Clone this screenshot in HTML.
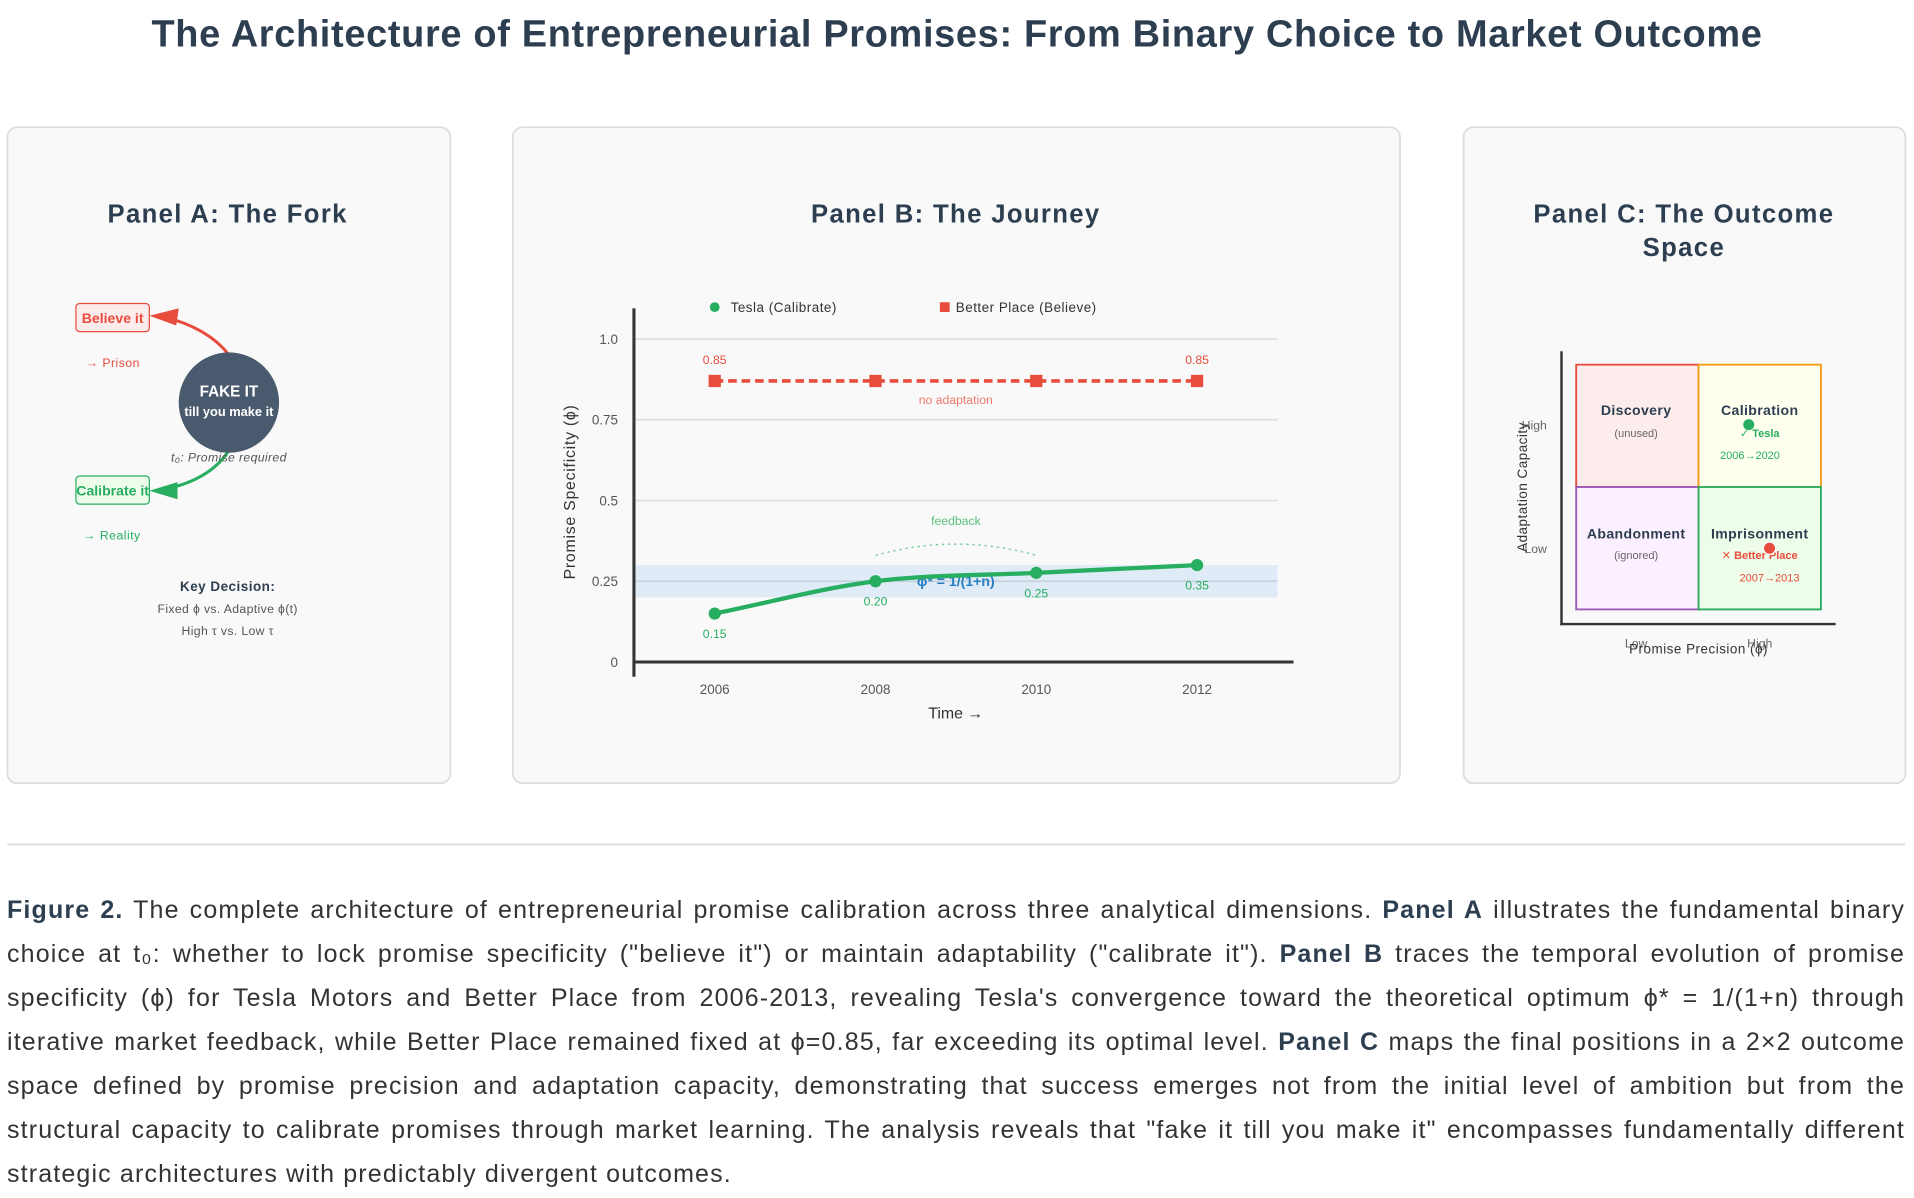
<!DOCTYPE html>
<html><head><meta charset="utf-8">
<style>
html,body{margin:0;padding:0;background:#fff;}
body{width:1914px;height:1198px;position:relative;overflow:hidden;font-family:"Liberation Sans","DejaVu Sans",sans-serif;}
#main{position:absolute;left:0;top:0;}
#caption{position:absolute;left:7px;top:888px;width:1898px;font-size:25px;line-height:44px;letter-spacing:1.15px;color:#333;text-align:justify;}
#caption b{color:#2c3e50;}
</style></head>
<body>
<svg id="main" width="1914" height="1198" viewBox="0 0 1564 979" font-family="Liberation Sans, DejaVu Sans, sans-serif">
  <text x="782" y="38" text-anchor="middle" font-size="31" font-weight="bold" fill="#2c3e50" letter-spacing="0.55">The Architecture of Entrepreneurial Promises: From Binary Choice to Market Outcome</text>

  <g>
    <rect x="6" y="104" width="362" height="536" rx="8" fill="#f9f9f9" stroke="#ddd" stroke-width="1.5"/>
    <text x="186" y="182" text-anchor="middle" font-size="21" font-weight="bold" fill="#2c3e50" letter-spacing="1.1">Panel A: The Fork</text>
    <path d="M187 290 Q170 268 134 259" fill="none" stroke="#e74c3c" stroke-width="2.5"/>
    <polygon points="122,258 146,252 144,266" fill="#e74c3c"/>
    <path d="M187 368 Q172 392 134 400" fill="none" stroke="#27ae60" stroke-width="2.5"/>
    <polygon points="122,401 145,394 145,408" fill="#27ae60"/>
    <rect x="62" y="248" width="60" height="23" rx="3" fill="#fdecec" stroke="#e74c3c"/>
    <text x="92" y="264" text-anchor="middle" font-size="11.5" font-weight="bold" fill="#e74c3c">Believe it</text>
    <text x="70" y="300" font-size="10" fill="#e74c3c" letter-spacing="0.4">→ Prison</text>
    <rect x="62" y="389" width="60" height="23" rx="3" fill="#eefde9" stroke="#27ae60"/>
    <text x="92" y="405" text-anchor="middle" font-size="11.5" font-weight="bold" fill="#27ae60">Calibrate it</text>
    <text x="68" y="441" font-size="10" fill="#27ae60" letter-spacing="0.4">→ Reality</text>
    <circle cx="187" cy="329" r="41" fill="#4a5a6e"/>
    <text x="187" y="324" text-anchor="middle" font-size="12.5" font-weight="bold" fill="#fff">FAKE IT</text>
    <text x="187" y="340" text-anchor="middle" font-size="10.5" font-weight="bold" fill="#fff">till you make it</text>
    <text x="187" y="377" text-anchor="middle" font-size="10" font-style="italic" fill="#555" letter-spacing="0.3">t₀: Promise required</text>
    <text x="186" y="483" text-anchor="middle" font-size="11" font-weight="bold" fill="#2c3e50" letter-spacing="0.4">Key Decision:</text>
    <text x="186" y="501" text-anchor="middle" font-size="10" fill="#555" letter-spacing="0.3">Fixed ϕ vs. Adaptive ϕ(t)</text>
    <text x="186" y="519" text-anchor="middle" font-size="10" fill="#555" letter-spacing="0.3">High τ vs. Low τ</text>
  </g>

  <g>
    <rect x="419" y="104" width="725" height="536" rx="8" fill="#f9f9f9" stroke="#ddd" stroke-width="1.5"/>
    <text x="781" y="182" text-anchor="middle" font-size="21" font-weight="bold" fill="#2c3e50" letter-spacing="1.1">Panel B: The Journey</text>
    <g id="chartB"></g>
  </g>

  <g>
    <rect x="1196" y="104" width="361" height="536" rx="8" fill="#f9f9f9" stroke="#ddd" stroke-width="1.5"/>
    <text x="1376" y="182" text-anchor="middle" font-size="21" font-weight="bold" fill="#2c3e50" letter-spacing="1.1">Panel C: The Outcome</text>
    <text x="1376" y="209" text-anchor="middle" font-size="21" font-weight="bold" fill="#2c3e50" letter-spacing="1.1">Space</text>
    <rect x="1288" y="298" width="100" height="100" fill="#fdecec" stroke="#e74c3c" stroke-width="1.5"/>
    <rect x="1388" y="298" width="100" height="100" fill="#fffff0" stroke="#f39c12" stroke-width="1.5"/>
    <rect x="1288" y="398" width="100" height="100" fill="#fcefff" stroke="#9b59b6" stroke-width="1.5"/>
    <rect x="1388" y="398" width="100" height="100" fill="#eefde9" stroke="#27ae60" stroke-width="1.5"/>
    <line x1="1276" y1="287" x2="1276" y2="511" stroke="#333" stroke-width="2"/>
    <line x1="1275" y1="510" x2="1500" y2="510" stroke="#333" stroke-width="2"/>
    <text x="1337" y="339" text-anchor="middle" font-size="11.5" font-weight="bold" fill="#2c3e50" letter-spacing="0.3">Discovery</text>
    <text x="1337" y="357" text-anchor="middle" font-size="9" fill="#666">(unused)</text>
    <text x="1438" y="339" text-anchor="middle" font-size="11.5" font-weight="bold" fill="#2c3e50" letter-spacing="0.3">Calibration</text>
    <text x="1438" y="357" text-anchor="middle" font-size="9" font-weight="bold" fill="#27ae60">✓ Tesla</text>
    <text x="1430" y="375" text-anchor="middle" font-size="9" fill="#27ae60">2006→2020</text>
    <circle cx="1429" cy="347" r="4.5" fill="#27ae60"/>
    <text x="1337" y="440" text-anchor="middle" font-size="11.5" font-weight="bold" fill="#2c3e50" letter-spacing="0.3">Abandonment</text>
    <text x="1337" y="457" text-anchor="middle" font-size="9" fill="#666">(ignored)</text>
    <text x="1438" y="440" text-anchor="middle" font-size="11.5" font-weight="bold" fill="#2c3e50" letter-spacing="0.3">Imprisonment</text>
    <text x="1438" y="457" text-anchor="middle" font-size="9" font-weight="bold" fill="#e74c3c">✕ Better Place</text>
    <text x="1446" y="475" text-anchor="middle" font-size="9" fill="#e74c3c">2007→2013</text>
    <circle cx="1446" cy="448" r="5" fill="#e74c3c" stroke="#fff" stroke-width="1"/>
    <text x="1264" y="351" text-anchor="end" font-size="10" fill="#666">High</text>
    <text x="1264" y="452" text-anchor="end" font-size="10" fill="#666">Low</text>
    <text x="1337" y="529" text-anchor="middle" font-size="10" fill="#666">Low</text>
    <text x="1438" y="529" text-anchor="middle" font-size="10" fill="#666">High</text>
    <text x="1388" y="534" text-anchor="middle" font-size="11" fill="#333" letter-spacing="0.4">Promise Precision (ϕ)</text>
    <text transform="translate(1248,398) rotate(-90)" text-anchor="middle" font-size="11" fill="#333" letter-spacing="0.4">Adaptation Capacity</text>
  </g>

  <line x1="6" y1="690" x2="1557" y2="690" stroke="#ddd" stroke-width="1.5"/>
</svg>

<div id="caption"><b>Figure 2.</b> The complete architecture of entrepreneurial promise calibration across three analytical dimensions. <b>Panel A</b> illustrates the fundamental binary choice at t₀: whether to lock promise specificity ("believe it") or maintain adaptability ("calibrate it"). <b>Panel B</b> traces the temporal evolution of promise specificity (ϕ) for Tesla Motors and Better Place from 2006-2013, revealing Tesla's convergence toward the theoretical optimum ϕ* = 1/(1+n) through iterative market feedback, while Better Place remained fixed at ϕ=0.85, far exceeding its optimal level. <b>Panel C</b> maps the final positions in a 2×2 outcome space defined by promise precision and adaptation capacity, demonstrating that success emerges not from the initial level of ambition but from the structural capacity to calibrate promises through market learning. The analysis reveals that "fake it till you make it" encompasses fundamentally different strategic architectures with predictably divergent outcomes.</div>

<script>
const years = [2006, 2008, 2010, 2012];
const teslaValues = [0.15, 0.25, 0.276, 0.30];
const teslaLabels = ["0.15", "0.20", "0.25", "0.35"];
const betterPlaceValues = [0.87, 0.87, 0.87, 0.87];
const betterPlaceLabels = ["0.85", "", "", "0.85"];
const yTicks = [0, 0.25, 0.5, 0.75, 1.0];
const yTickLabels = ["0", "0.25", "0.5", "0.75", "1.0"];
const optimumBand = [0.20, 0.30];
const optimumValue = 0.25;

const NS = "http://www.w3.org/2000/svg";
const g = document.getElementById('chartB');
const X = yr => 584 + (yr - 2006) * 65.7;
const Y = v => 541 - v * 264;
function mk(tag, attrs, text) {
  const e = document.createElementNS(NS, tag);
  for (const k in attrs) e.setAttribute(k, attrs[k]);
  if (text !== undefined) e.textContent = text;
  g.appendChild(e);
  return e;
}
let band = mk('rect', {x: 518, y: Y(optimumBand[1]), width: 526, height: Y(optimumBand[0]) - Y(optimumBand[1]), fill: '#d6e6f4', opacity: 0.75});


yTicks.forEach((t, i) => {
  if (t > 0) {
    let gl = mk('line', {x1: 518, x2: 1044, y1: Y(t), y2: Y(t), stroke: t === optimumValue ? '#c5d3df' : '#e0e0e0', 'stroke-width': 1.5});
    
    
  }
  let tl = mk('text', {x: 505, y: Y(t) + 4, 'text-anchor': 'end', 'font-size': 11, fill: '#555'}, yTickLabels[i]);
  
  
});
years.forEach(yr => {
  let tl = mk('text', {x: X(yr), y: 567, 'text-anchor': 'middle', 'font-size': 11, fill: '#555'}, String(yr));
  
  
});
let ya = mk('line', {x1: 518, x2: 518, y1: 252, y2: 553, stroke: '#333', 'stroke-width': 2.5});


let xa = mk('line', {x1: 517, x2: 1057, y1: 541, y2: 541, stroke: '#333', 'stroke-width': 2.5});


let yt = mk('text', {transform: 'translate(470,402) rotate(-90)', 'text-anchor': 'middle', 'font-size': 13, fill: '#333', 'letter-spacing': 0.6}, 'Promise Specificity (ϕ)');


let xt = mk('text', {x: 781, y: 587, 'text-anchor': 'middle', 'font-size': 13, fill: '#333'}, 'Time →');


let ol = mk('text', {x: 781, y: 479, 'text-anchor': 'middle', 'font-size': 11.5, 'font-weight': 'bold', fill: '#2a7fc1'}, 'ϕ* = 1/(1+n)');


let fa = mk('path', {d: `M${X(2008)} ${Y(0.33)} Q${X(2009)} ${Y(0.40)} ${X(2010)} ${Y(0.33)}`, fill: 'none', stroke: '#7fcf9c', 'stroke-width': 1.2, 'stroke-dasharray': '2,3'});


let fl = mk('text', {x: X(2009), y: 429, 'text-anchor': 'middle', 'font-size': 10, fill: '#5cbf7f'}, 'feedback');


const bpPts = years.map((yr, i) => [X(yr), Y(betterPlaceValues[i])]);
let bl = mk('polyline', {points: bpPts.map(p => p.join(',')).join(' '), fill: 'none', stroke: '#e74c3c', 'stroke-width': 3, 'stroke-dasharray': '7,4'});


bpPts.forEach((p, i) => {
  let r = mk('rect', {x: p[0] - 5, y: p[1] - 5, width: 10, height: 10, fill: '#e74c3c'});
  
  
  if (betterPlaceLabels[i]) {
    let t = mk('text', {x: p[0], y: p[1] - 14, 'text-anchor': 'middle', 'font-size': 10, fill: '#e74c3c'}, betterPlaceLabels[i]);
    
    
  }
});
let na = mk('text', {x: 781, y: Y(betterPlaceValues[0]) + 19, 'text-anchor': 'middle', 'font-size': 10, fill: '#ee7a6e'}, 'no adaptation');


const tp = years.map((yr, i) => [X(yr), Y(teslaValues[i])]);
let d = `M${tp[0][0]} ${tp[0][1]}`;
const tension = 1.0;
for (let i = 0; i < tp.length - 1; i++) {
  const p0 = tp[Math.max(0, i - 1)], p1 = tp[i], p2 = tp[i + 1], p3 = tp[Math.min(tp.length - 1, i + 2)];
  const c1 = [p1[0] + (p2[0] - p0[0]) * tension / 6, p1[1] + (p2[1] - p0[1]) * tension / 6];
  const c2 = [p2[0] - (p3[0] - p1[0]) * tension / 6, p2[1] - (p3[1] - p1[1]) * tension / 6];
  if (i === 0) { c1[0] = p1[0] + (p2[0]-p1[0])/3; c1[1] = p1[1] + (p2[1]-p1[1])/3; }
  d += ` C${c1[0]} ${c1[1]} ${c2[0]} ${c2[1]} ${p2[0]} ${p2[1]}`;
}
let tl2 = mk('path', {d: d, fill: 'none', stroke: '#27ae60', 'stroke-width': 3.5});


tp.forEach((p, i) => {
  let c = mk('circle', {cx: p[0], cy: p[1], r: 5, fill: '#27ae60'});
  
  
  let t = mk('text', {x: p[0], y: p[1] + 20, 'text-anchor': 'middle', 'font-size': 10, fill: '#27ae60'}, teslaLabels[i]);
  
  
});
let lc = mk('circle', {cx: 584, cy: 251, r: 4, fill: '#27ae60'});


let lt = mk('text', {x: 597, y: 255, 'font-size': 11, fill: '#333', 'letter-spacing': 0.4}, 'Tesla (Calibrate)');


let lr = mk('rect', {x: 768, y: 247, width: 8, height: 8, fill: '#e74c3c'});


let lb = mk('text', {x: 781, y: 255, 'font-size': 11, fill: '#333', 'letter-spacing': 0.4}, 'Better Place (Believe)');


</script>
</body></html>
